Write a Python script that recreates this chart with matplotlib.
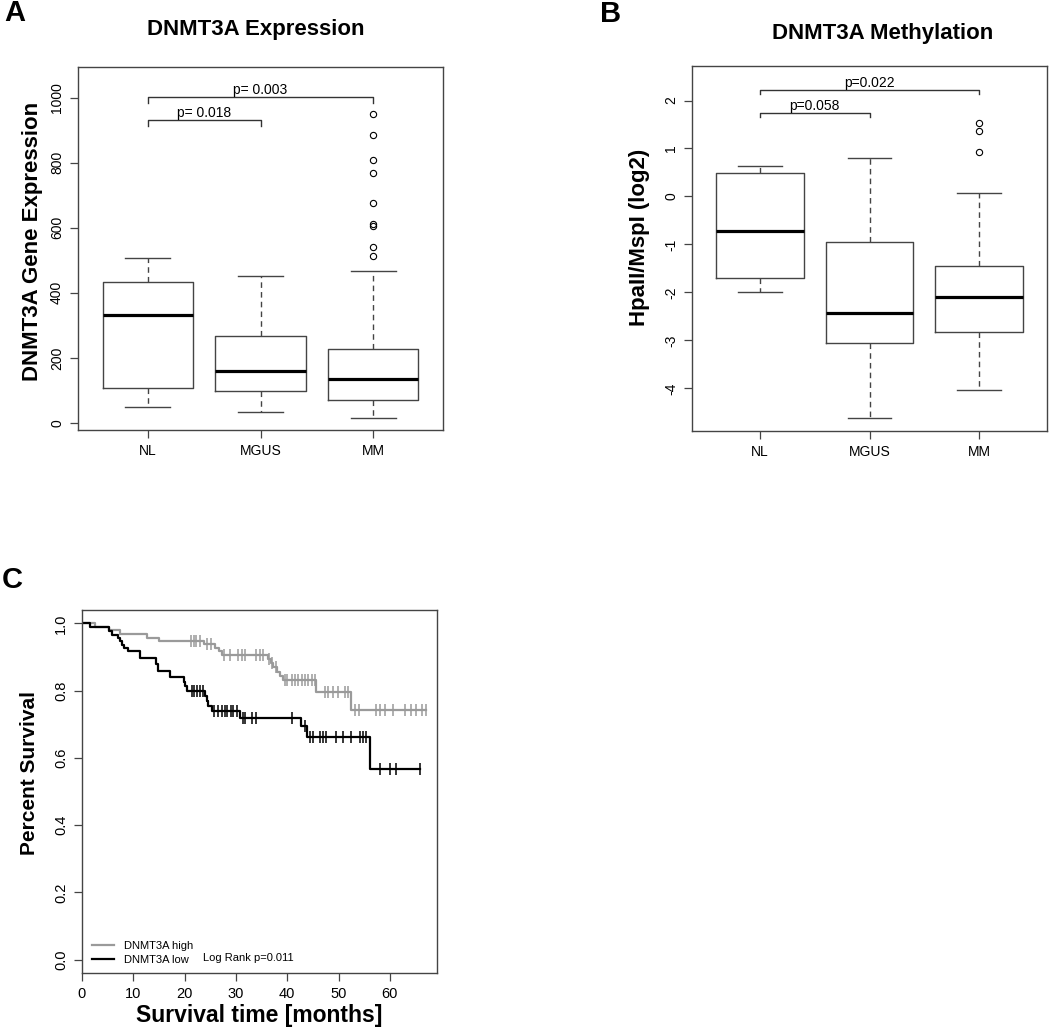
import matplotlib
matplotlib.use('Agg')
import matplotlib.pyplot as plt
import numpy as np

plt.rcParams['font.family'] = ['Liberation Sans', 'DejaVu Sans']
plt.rcParams['axes.unicode_minus'] = False

groups = ['NL', 'MGUS', 'MM']

# panel A - DNMT3A expression, box stats
expr_lo = [48, 34, 15]
expr_q1 = [107, 99, 70]
expr_med = [332, 161, 136]
expr_q3 = [433, 266, 228]
expr_hi = [507, 453, 466]
expr_out = [[], [], [949, 885, 810, 770, 676, 612, 607, 542, 514]]
expr_pairs = [(1, 3), (1, 2)]
expr_bracket_y = [1003, 932]
expr_bracket_drop = [18, 20]
expr_pvals = ['p= 0.003', 'p= 0.018']

# panel B - DNMT3A methylation
meth_lo = [-2.00, -4.62, -4.04]
meth_q1 = [-1.69, -3.06, -2.83]
meth_med = [-0.73, -2.42, -2.10]
meth_q3 = [0.48, -0.94, -1.46]
meth_hi = [0.63, 0.81, 0.07]
meth_out = [[], [], [1.54, 1.36, 0.92]]
meth_pairs = [(1, 3), (1, 2)]
meth_bracket_y = [2.21, 1.74]
meth_bracket_drop = [0.08, 0.09]
meth_pvals = ['p=0.022', 'p=0.058']

# panel C - Kaplan-Meier, step times and survival after each step
high_t = [0, 2.6, 5.2, 7.5, 12.6, 15.1, 23.7, 25.9, 26.7, 27.2, 36.2, 36.8, 37.3,
          38.0, 38.6, 39.2, 45.7, 52.4, 67.1]
high_s = [1.0, 0.990, 0.980, 0.969, 0.957, 0.947, 0.938, 0.928, 0.917, 0.907, 0.895,
          0.881, 0.869, 0.857, 0.845, 0.832, 0.797, 0.743, 0.743]
high_cens = [21.3, 21.8, 22.3, 23.0, 24.4, 25.2, 27.6, 28.9, 30.5, 31.1, 31.8, 34.0,
             34.7, 35.3, 36.5, 37.1, 37.8, 39.6, 40.0, 41.0, 41.5, 42.2, 42.8, 43.5,
             44.1, 44.8, 45.4, 47.3, 48.0, 48.9, 49.9, 51.2, 51.9, 53.2, 54.0, 57.4,
             58.0, 59.0, 60.6, 62.9, 64.2, 65.2, 66.2, 67.1]
low_t = [0, 1.6, 5.2, 5.8, 7.1, 7.5, 7.8, 8.1, 8.9, 11.3, 14.5, 14.8, 17.2, 19.8,
         20.1, 20.5, 23.9, 24.3, 24.6, 25.3, 30.8, 42.7, 43.9, 56.1, 65.8]
low_s = [1.0, 0.990, 0.977, 0.967, 0.957, 0.947, 0.937, 0.927, 0.918, 0.898, 0.880,
         0.860, 0.840, 0.826, 0.813, 0.800, 0.785, 0.770, 0.755, 0.740, 0.720, 0.694,
         0.662, 0.567, 0.567]
low_cens = [21.4, 21.9, 22.4, 23.0, 23.6, 25.7, 26.5, 27.3, 27.8, 28.3, 29.0, 29.5,
            30.2, 31.3, 31.8, 33.1, 34.0, 40.9, 43.5, 44.4, 45.0, 46.4, 47.0, 47.6,
            49.6, 50.9, 52.5, 54.1, 54.8, 55.4, 58.0, 60.0, 61.3, 65.8]

W, H = 1050, 1033
fig = plt.figure(figsize=(W / 100, H / 100), dpi=100)


def px_axes(l, t, r, b):
    return fig.add_axes([l / W, 1 - b / H, (r - l) / W, (b - t) / H])


def style(ax, fs=10):
    for s in ax.spines.values():
        s.set_color('#444444')
        s.set_linewidth(1.0)
    ax.tick_params(direction='out', length=6, width=0.9, color='#444444',
                   labelsize=fs, pad=4)
    for lab in ax.get_yticklabels():
        lab.set_rotation(90)
        lab.set_va('center')


def boxpanel(ax, lo, q1, med, q3, hi, out, pairs, by, drop, pvals):
    stats = []
    for i in range(len(groups)):
        stats.append(dict(whislo=lo[i], q1=q1[i], med=med[i], q3=q3[i],
                          whishi=hi[i], fliers=out[i], label=groups[i]))
    ax.bxp(stats, positions=[1, 2, 3], widths=0.8, showfliers=True,
           boxprops=dict(color='#444444', lw=1.0),
           medianprops=dict(color='black', lw=2.3),
           whiskerprops=dict(color='#444444', lw=1.0, ls=(0, (4, 3))),
           capprops=dict(color='#444444', lw=1.0),
           flierprops=dict(marker='o', mfc='none', mec='black', ms=4.5, mew=0.8))
    for (a, b), y, d, p in zip(pairs, by, drop, pvals):
        ax.plot([a, a, b, b], [y - d, y, y, y - d], color='#333333', lw=1.0)
        ax.text((a + b) / 2, y, p, ha='center', va='bottom', fontsize=10)
    ax.set_xlim(0.38, 3.62)


# ---- A
axA = px_axes(78, 67, 443, 430)
boxpanel(axA, expr_lo, expr_q1, expr_med, expr_q3, expr_hi, expr_out,
         expr_pairs, expr_bracket_y, expr_bracket_drop, expr_pvals)
axA.set_ylim(-22, 1095)
axA.set_yticks([0, 200, 400, 600, 800, 1000])
style(axA)
axA.set_ylabel('DNMT3A Gene Expression', fontsize=16, fontweight='bold')
axA.yaxis.set_label_coords(-0.095, 0.52)
fig.text(256 / W, 1 - 29 / H, 'DNMT3A Expression', ha='center', va='center',
         fontsize=16, fontweight='bold')
fig.text(4 / W, 1 - 13 / H, 'A', ha='left', va='center', fontsize=21, fontweight='bold')

# ---- B
axB = px_axes(692, 66, 1047, 431)
boxpanel(axB, meth_lo, meth_q1, meth_med, meth_q3, meth_hi, meth_out,
         meth_pairs, meth_bracket_y, meth_bracket_drop, meth_pvals)
axB.set_ylim(-4.89, 2.72)
axB.set_yticks([-4, -3, -2, -1, 0, 1, 2])
style(axB)
axB.set_ylabel('HpaII/MspI (log2)', fontsize=16, fontweight='bold')
axB.yaxis.set_label_coords(-0.118, 0.53)
fig.text(883 / W, 1 - 33 / H, 'DNMT3A Methylation', ha='center', va='center',
         fontsize=16, fontweight='bold')
fig.text(600 / W, 1 - 14 / H, 'B', ha='left', va='center', fontsize=21, fontweight='bold')

# ---- C
axC = px_axes(82, 610, 437, 973)
curves = [(high_t, high_s, high_cens, '#9a9a9a', 'DNMT3A high'),
          (low_t, low_s, low_cens, 'black', 'DNMT3A low')]
handles = []
for t, s, cens, col, lab in curves:
    ln, = axC.step(t, s, where='post', color=col, lw=1.6, label=lab)
    handles.append(ln)
    t_arr = np.array(t)
    s_arr = np.array(s)
    idx = np.searchsorted(t_arr, cens, side='right') - 1
    axC.plot(cens, s_arr[idx], ls='none', marker='|', ms=9, mew=1.1, color=col)
axC.set_xlim(0, 69.2)
axC.set_ylim(-0.04, 1.04)
axC.set_xticks([0, 10, 20, 30, 40, 50, 60])
axC.set_yticks([0, 0.2, 0.4, 0.6, 0.8, 1.0])
axC.set_yticklabels(['0.0', '0.2', '0.4', '0.6', '0.8', '1.0'])
style(axC, fs=10.5)
axC.set_ylabel('Percent Survival', fontsize=15, fontweight='bold')
axC.yaxis.set_label_coords(-0.12, 0.55)
axC.set_xlabel('Survival time [months]', fontsize=16.5, fontweight='bold')
axC.xaxis.set_label_coords(0.5, -0.085)
axC.legend(handles=handles, loc='lower left', bbox_to_anchor=(0.028, 0.022),
           frameon=False, fontsize=8, handlelength=2.0, handletextpad=0.9,
           labelspacing=0.35, borderpad=0, borderaxespad=0)
axC.text(0.341, 0.041, 'Log Rank p=0.011', transform=axC.transAxes,
         ha='left', va='center', fontsize=8)
fig.text(2 / W, 1 - 580 / H, 'C', ha='left', va='center', fontsize=21, fontweight='bold')

fig.savefig('out.png', dpi=100)
